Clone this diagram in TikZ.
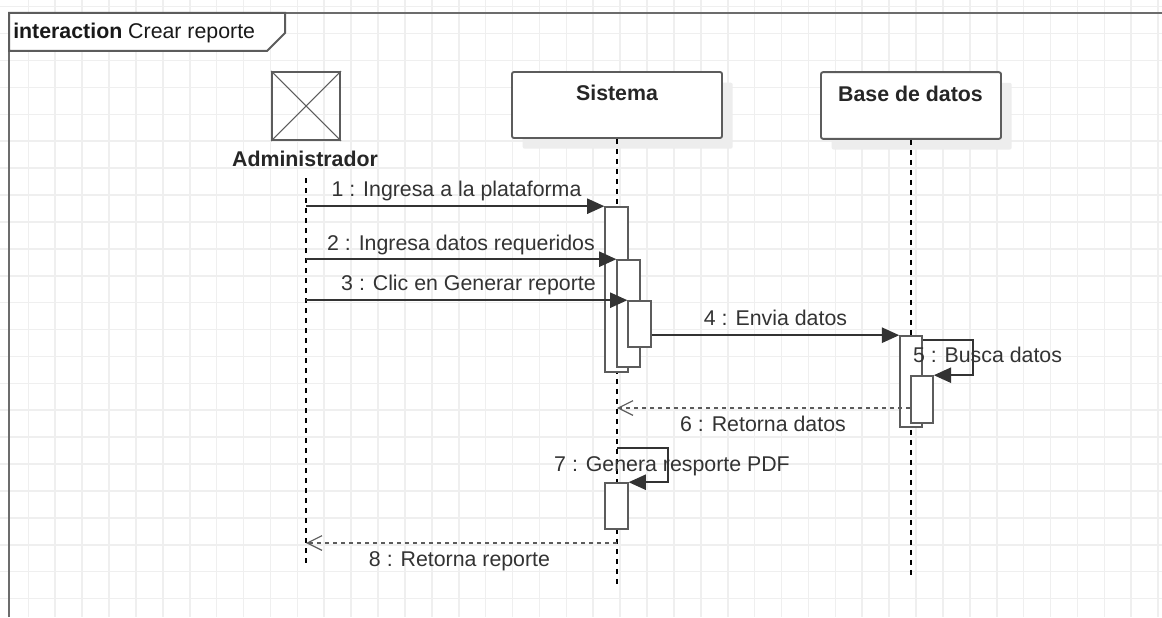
\documentclass[tikz,border=0pt]{standalone}
\usepackage{fontspec}
\setmainfont{Liberation Sans}
\usetikzlibrary{arrows.meta,positioning,shadows}
\definecolor{gridc}{HTML}{EFEFEF}
\definecolor{linec}{HTML}{5C5C5C}
\definecolor{textc}{HTML}{333333}
\definecolor{shadc}{HTML}{EDEDED}
\newcommand{\diagfont}{\fontsize{16}{19}\selectfont}
\tikzset{
    lifebox/.style={draw=linec, fill=white, line width=1.4pt, rounded corners=1.5pt,
        drop shadow={shadow xshift=8pt, shadow yshift=-8pt, fill=shadc, opacity=1}},
    headname/.style={anchor=base, inner sep=0pt, text=black!85, font=\diagfont\bfseries},
    lifeline/.style={black, line width=1.3pt, dash pattern=on 3.75pt off 3.75pt},
    actbar/.style={draw=linec, fill=white, line width=1.2pt, minimum width=17pt, inner sep=0pt},
    msg/.style={draw=black!80, line width=1.2pt, -{Triangle[length=13pt,width=11.5pt]}},
    ret/.style={draw=linec, line width=1.1pt, dash pattern=on 3pt off 3pt,
        -{Straight Barb[length=11pt,width=11pt,line width=0.9pt]}},
    msglabel/.style={anchor=base, inner sep=0pt, text=textc}
}
\begin{document}
\begin{tikzpicture}[x=0.75pt, y=-0.75pt, font=\diagfont]
    \useasboundingbox (0,0) rectangle (1162,617);
    \fill[white] (0,0) rectangle (1162,617);
    % grid
    \foreach \i in {0,...,42}
        \draw[gridc, line width=1.2pt] ({28.3+26.9*\i},0) -- ({28.3+26.9*\i},617);
    \foreach \j in {0,...,22}
        \draw[gridc, line width=1.2pt] (0,{6.7+26.9*\j}) -- (1162,{6.7+26.9*\j});
    % frame
    \draw[linec!90, line width=1.5pt] (9,617) -- (9,13) -- (1162,13);
    \draw[linec, line width=1.5pt, fill=white] (9,13) -- (285,13) -- (285,33) -- (267,51) -- (9,51) -- cycle;
    \node[anchor=base west, inner sep=0pt, text=black!90] (title) at (13,38.5) {\textbf{interaction} Crear reporte};
    % heads
    \node[draw=linec, line width=1.4pt, minimum size=51pt, inner sep=0pt] (adm) at (306,106) {};
    \draw[linec, line width=0.8pt] (adm.north west) -- (adm.south east) (adm.north east) -- (adm.south west);
    \node[lifebox, minimum width=157.5pt, minimum height=49.5pt] (sis) at (617,105) {};
    \node[lifebox, minimum width=135pt, minimum height=50pt] (bd) at (911,105.5) {};
    \node[headname] (admname) at (305,166.5) {Administrador};
    \node[headname] (sisname) at (617,100.5) {Sistema};
    \node[headname] (bdname) at (910.5,101) {Base de datos};
    % lifelines
    \coordinate (admtop) at (306,178);
    \coordinate (admend) at (306,566);
    \coordinate (sisend) at (617,587);
    \coordinate (bdend) at (911,577);
    \draw[lifeline] (admtop) -- (admend);
    \draw[lifeline] (sis.south) -- (sisend);
    \draw[lifeline] (bd.south) -- (bdend);
    % activations
    \node[actbar, minimum height=123.75pt] (s1) at (616.5,289.5) {};
    \node[actbar, minimum height=80.25pt] (s2) at (628.5,313.5) {};
    \node[actbar, minimum height=34.5pt] (s3) at (639.5,324) {};
    \node[actbar, minimum width=16.5pt, minimum height=68.25pt] (d1) at (911,381.5) {};
    \node[actbar, minimum width=16.5pt, minimum height=35.25pt] (d2) at (922,399.5) {};
    \node[actbar, minimum height=34.5pt] (s4) at (616.5,506) {};
    % messages
    \coordinate (sis6) at (617,408);
    \coordinate (sis7) at (617,448);
    \coordinate (sis8) at (617,543);
    \draw[msg] (adm |- s1.north west) -- (s1.north west);
    \draw[msg] (adm |- s2.north west) -- (s2.north west);
    \draw[msg] (adm |- s3.north west) -- (s3.north west);
    \draw[msg] (s3.east |- d1.north west) -- (d1.north west);
    \draw[msg] ([yshift=-3.75pt]d1.north east) -- ++(50,0) |- (d2.north east);
    \draw[ret] (d2.west |- sis6) -- (sis6);
    \draw[msg] (sis7) -- ++(51,0) |- (s4.north east);
    \draw[ret] (sis8) -- (adm |- sis8);
    \node[msglabel] (l1) at (456.5,196.5) {1 : Ingresa a la plataforma};
    \node[msglabel] (l2) at (461,250) {2 : Ingresa datos requeridos};
    \node[msglabel] (l3) at (468.5,290.5) {3 : Clic en Generar reporte};
    \node[msglabel] (l4) at (775.5,325) {4 : Envia datos};
    \node[msglabel] (l5) at (987.5,362.5) {5 : Busca datos};
    \node[msglabel] (l6) at (763,431.5) {6 : Retorna datos};
    \node[msglabel] (l7) at (672,471.5) {7 : Genera resporte PDF};
    \node[msglabel] (l8) at (459.5,566.5) {8 : Retorna reporte};
\end{tikzpicture}
\end{document}
